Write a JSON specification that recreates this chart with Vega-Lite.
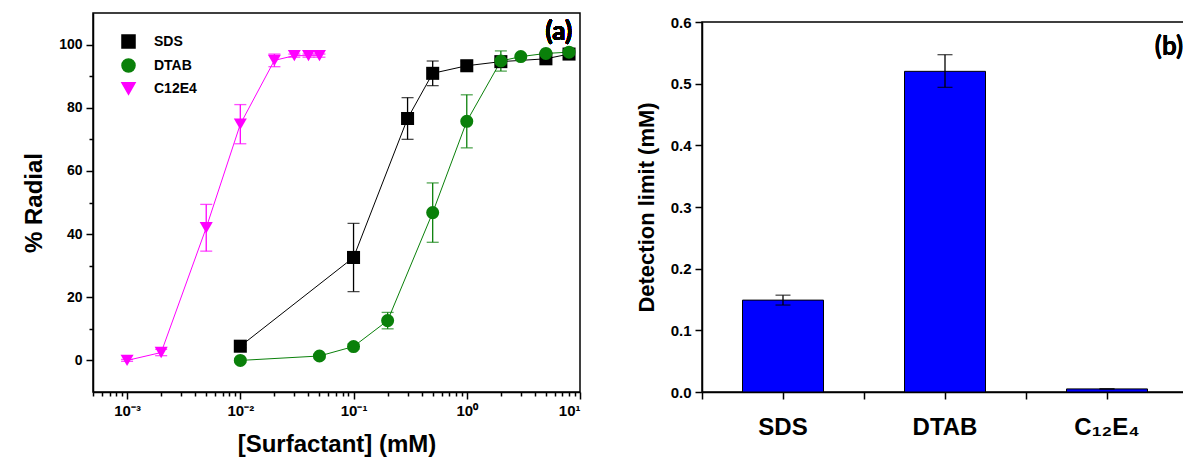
{
  "$schema": "https://vega.github.io/schema/vega-lite/v6.json",
  "background": "white",
  "padding": {"left": 21, "top": 12, "right": 0, "bottom": 0},
  "config": {
    "view": {"stroke": "black", "strokeWidth": 1.5},
    "font": "Liberation Sans",
    "axis": {"domainColor": "black", "tickColor": "black", "labelColor": "black", "titleColor": "black", "labelFont": "Liberation Sans", "titleFont": "Liberation Sans", "labelFontWeight": "bold", "titleFontWeight": "bold", "grid": false, "domainWidth": 1.5, "tickWidth": 1.5, "labelPadding": 4},
    "legend": {"labelFontSize": 14, "labelFontWeight": "bold", "labelFont": "Liberation Sans", "labelColor": "black"}
  },
  "spacing": 52,
  "hconcat": [
    {
      "width": 487,
      "height": 379,
      "data": {"values": [
        {"s": "SDS", "c": 0.01, "r": 4.5, "e": 0.5},
        {"s": "SDS", "c": 0.1, "r": 32.6, "e": 10.8},
        {"s": "SDS", "c": 0.3, "r": 76.6, "e": 6.6},
        {"s": "SDS", "c": 0.5, "r": 90.9, "e": 3.9},
        {"s": "SDS", "c": 1, "r": 93.3, "e": 1.5},
        {"s": "SDS", "c": 2, "r": 94.6, "e": 1},
        {"s": "SDS", "c": 5, "r": 95.5, "e": 0.5},
        {"s": "SDS", "c": 8, "r": 97, "e": 0.5},
        {"s": "DTAB", "c": 0.01, "r": 0, "e": 0.5},
        {"s": "DTAB", "c": 0.05, "r": 1.4, "e": 0.5},
        {"s": "DTAB", "c": 0.1, "r": 4.4, "e": 0.8},
        {"s": "DTAB", "c": 0.2, "r": 12.6, "e": 2.6},
        {"s": "DTAB", "c": 0.5, "r": 46.8, "e": 9.4},
        {"s": "DTAB", "c": 1, "r": 75.7, "e": 8.4},
        {"s": "DTAB", "c": 2, "r": 94.8, "e": 3.2},
        {"s": "DTAB", "c": 3, "r": 96.2, "e": 0.5},
        {"s": "DTAB", "c": 5, "r": 97.2, "e": 0.5},
        {"s": "DTAB", "c": 8, "r": 97.6, "e": 0.5},
        {"s": "C12E4", "c": 0.001, "r": 0, "e": 0.3},
        {"s": "C12E4", "c": 0.002, "r": 2.5, "e": 1},
        {"s": "C12E4", "c": 0.005, "r": 42, "e": 7.4},
        {"s": "C12E4", "c": 0.01, "r": 74.8, "e": 6.2},
        {"s": "C12E4", "c": 0.02, "r": 95, "e": 2},
        {"s": "C12E4", "c": 0.03, "r": 96.5, "e": 0.5},
        {"s": "C12E4", "c": 0.04, "r": 96.5, "e": 0.5},
        {"s": "C12E4", "c": 0.05, "r": 96.5, "e": 0.5}
      ]},
      "encoding": {
        "x": {"field": "c", "type": "quantitative",
          "scale": {"type": "log", "domain": [0.0005, 10], "nice": false},
          "axis": {
            "title": "[Surfactant] (mM)", "titleFontSize": 24, "titlePadding": 14, "labelFontSize": 15,
            "values": [0.0005,0.0006,0.0007,0.0008,0.0009,0.001,0.002,0.003,0.004,0.005,0.006,0.007,0.008,0.009,0.01,0.02,0.03,0.04,0.05,0.06,0.07,0.08,0.09,0.1,0.2,0.3,0.4,0.5,0.6,0.7,0.8,0.9,1,2,3,4,5,6,7,8,9,10],
            "labelExpr": "datum.value == 0.001 ? '10⁻³' : datum.value == 0.01 ? '10⁻²' : datum.value == 0.1 ? '10⁻¹' : datum.value == 1 ? '10⁰' : datum.value == 10 ? '10¹' : ''",
            "tickSize": {"condition": {"test": "indexof([0.001,0.01,0.1,1,10], datum.value) >= 0", "value": 7}, "value": 4}
          }
        },
        "y": {"field": "r", "type": "quantitative",
          "scale": {"domain": [-10, 110], "nice": false, "zero": false},
          "axis": {
            "title": "% Radial", "titleFontSize": 24, "titlePadding": 12, "labelFontSize": 14,
            "values": [0,10,20,30,40,50,60,70,80,90,100],
            "labelExpr": "datum.value % 20 == 0 ? datum.label : ''",
            "tickSize": {"condition": {"test": "datum.value % 20 == 0", "value": 7}, "value": 4}
          }
        },
        "color": {"field": "s", "type": "nominal", "scale": {"domain": ["SDS", "DTAB", "C12E4"], "range": ["black", "#0a800a", "#ff00ff"]},
          "legend": {"title": null, "orient": "none", "legendX": 28, "legendY": 21, "symbolOpacity": 1, "symbolSize": 170, "labelOffset": 18, "rowPadding": 3}}
      },
      "layer": [
        {
          "mark": {"type": "line", "strokeWidth": 1}
        },
        {
          "mark": {"type": "errorbar", "ticks": {"size": 12}, "thickness": 1.3},
          "encoding": {
            "yError": {"field": "e"}
          }
        },
        {
          "mark": {"type": "point", "filled": true, "size": 170, "opacity": 1},
          "encoding": {
            "shape": {"field": "s", "type": "nominal",
              "scale": {"domain": ["SDS", "DTAB", "C12E4"], "range": ["square", "circle", "triangle-down"]},
              "legend": {"title": null, "orient": "none", "legendX": 28, "legendY": 21, "symbolOpacity": 1, "symbolSize": 170, "labelOffset": 18, "rowPadding": 3}}
          }
        },
        {
          "mark": {"type": "text", "text": "(a)", "font": "Lato", "fontWeight": "bold", "fontSize": 26, "color": "black"},
          "encoding": {"x": {"datum": 6.5}, "y": {"datum": 104}, "color": {"value": "black"}}
        }
      ]
    },
    {
      "spacing": 0,
      "vconcat": [
        {
          "width": 486,
          "height": 1,
          "view": {"stroke": null},
          "data": {"values": []},
          "mark": {"type": "point", "opacity": 0}
        },
        {
          "width": 486,
          "height": 370,
          "data": {"values": [
            {"s": "SDS", "d": 0.149, "lo": 0.141, "hi": 0.157},
            {"s": "DTAB", "d": 0.52, "lo": 0.494, "hi": 0.547},
            {"s": "C₁₂E₄", "d": 0.005, "lo": 0.005, "hi": 0.005}
          ]},
          "layer": [
            {
              "mark": {"type": "bar", "color": "#0000ff", "stroke": "black", "strokeWidth": 1},
              "encoding": {
                "x": {"field": "s", "type": "nominal", "sort": null,
                  "scale": {"paddingInner": 0.5, "paddingOuter": 0.25},
                  "axis": {"title": null, "labelAngle": 0, "labelFontSize": 24, "labelPadding": 16, "tickSize": 7, "bandPosition": 0.5}},
                "y": {"field": "d", "type": "quantitative", "title": "Detection limit (mM)",
                  "scale": {"domain": [0, 0.6], "nice": false},
                  "axis": {
                    "titleFontSize": 22, "titlePadding": 12, "labelFontSize": 15,
                    "values": [0,0.05,0.1,0.15,0.2,0.25,0.3,0.35,0.4,0.45,0.5,0.55,0.6],
                    "labelExpr": "round(datum.value*100) % 10 == 0 ? format(datum.value, '.1f') : ''",
                    "tickSize": {"condition": {"test": "round(datum.value*100) % 10 == 0", "value": 7}, "value": 4}
                  }
                }
              }
            },
            {
              "mark": {"type": "rule", "color": "black", "strokeWidth": 1.3},
              "encoding": {
                "x": {"field": "s", "type": "nominal", "sort": null,
                  "axis": {"orient": "bottom", "title": null, "labels": false, "domain": false, "bandPosition": -0.5, "tickSize": 7}},
                "y": {"field": "lo", "type": "quantitative", "title": "Detection limit (mM)"},
                "y2": {"field": "hi"}
              }
            },
            {
              "mark": {"type": "tick", "orient": "horizontal", "size": 15, "thickness": 1.3, "color": "black"},
              "encoding": {
                "x": {"field": "s", "type": "nominal", "sort": null, "axis": null},
                "y": {"field": "lo", "type": "quantitative", "title": "Detection limit (mM)"}
              }
            },
            {
              "mark": {"type": "tick", "orient": "horizontal", "size": 15, "thickness": 1.3, "color": "black"},
              "encoding": {
                "x": {"field": "s", "type": "nominal", "sort": null, "axis": null},
                "y": {"field": "hi", "type": "quantitative", "title": "Detection limit (mM)"}
              }
            },
            {
              "mark": {"type": "text", "text": "(b)", "font": "Lato", "fontWeight": "bold", "fontSize": 26, "color": "black", "dx": 62},
              "encoding": {
                "x": {"datum": "C₁₂E₄", "axis": null},
                "y": {"datum": 0.56}
              }
            }
          ],
          "resolve": {"axis": {"x": "independent"}}
        }
      ]
    }
  ]
}
